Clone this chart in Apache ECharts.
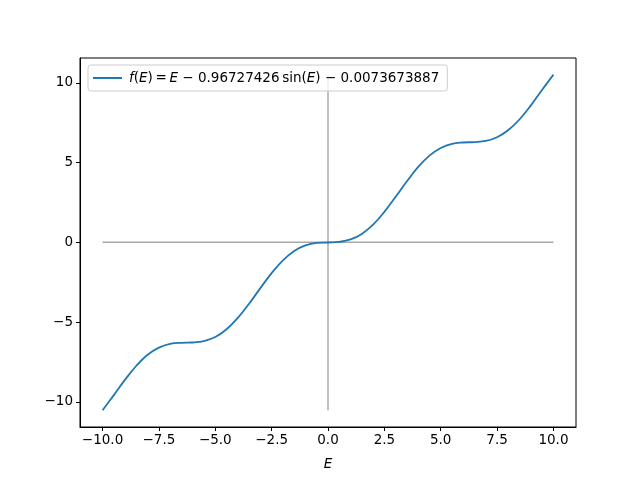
<!DOCTYPE html>
<html>
<head>
<meta charset="utf-8">
<script src="https://cdn.jsdelivr.net/npm/echarts@6/dist/echarts.min.js"></script>
<style>
    html, body { margin: 0; padding: 0; background: #fff; }
    #main { width: 640px; height: 480px; }
</style>
</head>
<body>
<div id="main"></div>
<script>
    // E values (x axis)
    const eValues = [-10, -9.5, -9, -8.5, -8, -7.5, -7, -6.5, -6, -5.5, -5, -4.5, -4, -3.5, -3, -2.5, -2, -1.5, -1, -0.5,
        0, 0.5, 1, 1.5, 2, 2.5, 3, 3.5, 4, 4.5, 5, 5.5, 6, 6.5, 7, 7.5, 8, 8.5, 9, 9.5, 10];
    // f(E) values
    const fValues = [-10.53, -9.58, -8.61, -7.74, -7.05, -6.60, -6.37, -6.30, -6.28, -6.19, -5.94, -5.45, -4.74, -3.85,
        -2.87, -1.93, -1.13, -0.54, -0.19, -0.04, -0.01, 0.03, 0.18, 0.53, 1.11, 1.91, 2.86, 3.83, 4.73, 5.44, 5.92,
        6.18, 6.26, 6.29, 6.36, 6.59, 7.04, 7.72, 8.59, 9.57, 10.52];
    // gray reference lines
    const hLine = [[-10, 0], [10, 0]];
    const vLine = [[0, -10.53], [0, 10.52]];
    // tick labels
    const xTicks = [-10, -7.5, -5, -2.5, 0, 2.5, 5, 7.5, 10];
    const yTicks = [-10, -5, 0, 5, 10];

    const legendName = 'f(E) = E − 0.96727426 sin(E) − 0.0073673887';

    const chart = echarts.init(document.getElementById('main'));
    const font = 'DejaVu Sans';
    const fs = 13.5;
    const fmtMinus = v => String(v).replace('-', '\u2212');

    let option = {
        animation: false,
        textStyle: { fontFamily: font },
        grid: { left: 80, right: 64, top: 58, bottom: 53, show: true, borderColor: '#000', borderWidth: 1 },
        legend: {
            left: 88, top: 65,
            padding: [6, 8, 6, 5],
            backgroundColor: 'rgba(255,255,255,0.8)',
            borderColor: '#cccccc', borderWidth: 1, borderRadius: 3,
            icon: 'rect', itemWidth: 29, itemHeight: 2, itemGap: 10,
            data: [legendName],
            formatter: () => '{i|f}(' + '{i|E})\u2009=\u2009{i|E} − 0.96727426\u2009sin(' + '{i|E}) − 0.0073673887',
            textStyle: {
                fontFamily: font, fontSize: fs, color: '#000', padding: [0, 0, 0, 2],
                rich: { i: { fontStyle: 'italic', fontFamily: font, fontSize: fs, color: '#000' } }
            }
        },
        xAxis: {
            type: 'value', min: -11, max: 11,
            name: 'E', nameLocation: 'middle', nameGap: 30,
            nameTextStyle: { fontStyle: 'italic', fontSize: fs, color: '#000', fontFamily: font },
            splitLine: { show: false },
            axisLine: { onZero: false, lineStyle: { color: '#000' } },
            axisTick: { customValues: xTicks, length: 4, lineStyle: { color: '#000' } },
            axisLabel: {
                customValues: xTicks, fontSize: fs, color: '#000', margin: 6,
                formatter: v => fmtMinus(v.toFixed(1))
            }
        },
        yAxis: {
            type: 'value', min: -11.58, max: 11.56,
            splitLine: { show: false },
            axisLine: { onZero: false, lineStyle: { color: '#000' } },
            axisTick: { customValues: yTicks, length: 4, lineStyle: { color: '#000' } },
            axisLabel: {
                customValues: yTicks, fontSize: fs, color: '#000', margin: 7,
                formatter: v => fmtMinus(v)
            }
        },
        series: [
            {
                type: 'line', data: hLine, symbol: 'none', silent: true,
                lineStyle: { color: '#aaaaaa', width: 1.5 }, z: 1
            },
            {
                type: 'line', data: vLine, symbol: 'none', silent: true,
                lineStyle: { color: '#aaaaaa', width: 1.5 }, z: 1
            },
            {
                name: legendName, type: 'line', symbol: 'none', smooth: 0.4,
                data: eValues.map((e, i) => [e, fValues[i]]),
                itemStyle: { color: '#1f77b4' },
                lineStyle: { color: '#1f77b4', width: 1.8 }, z: 2
            }
        ]
    };
    chart.setOption(option);
</script>
</body>
</html>
